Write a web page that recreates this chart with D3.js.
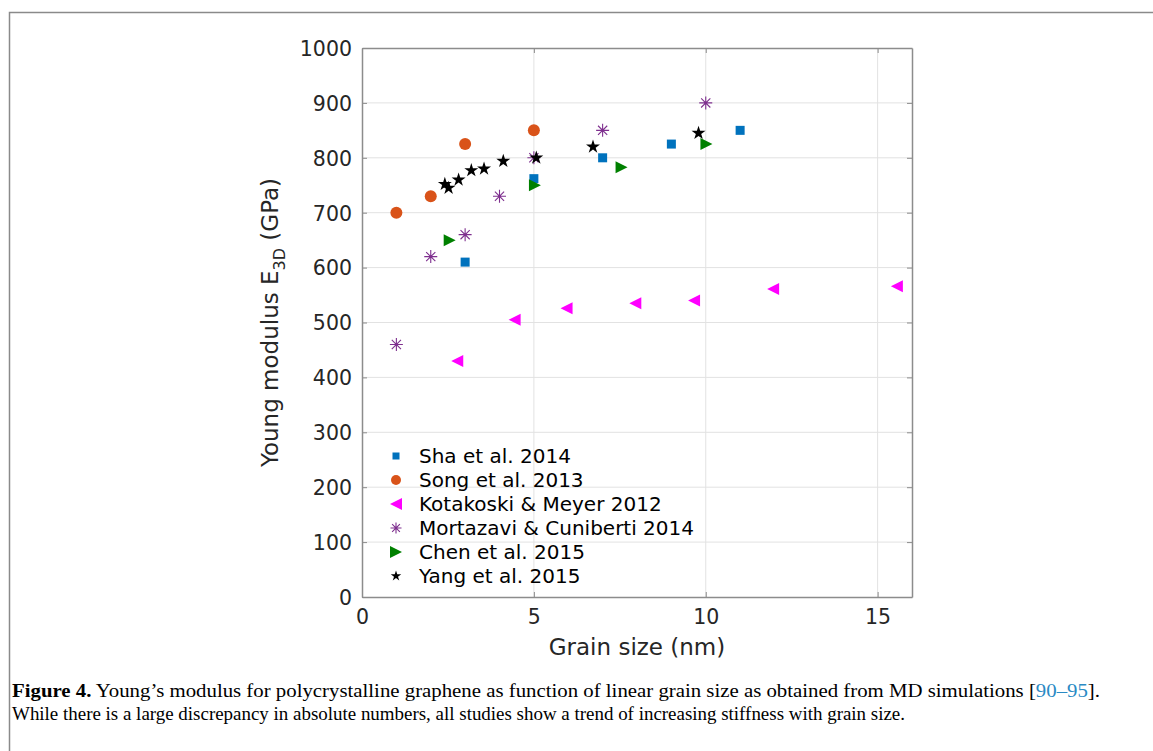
<!DOCTYPE html>
<html>
<head>
<meta charset="utf-8">
<script src="https://cdn.jsdelivr.net/npm/d3@7"></script>
<style>
    body { margin: 0; background: #fff; }
    svg { display: block; }
</style>
</head>
<body>
<div id="chart"></div>
<script>
// --------- data ---------
const shaX = [3, 5, 7, 9, 11],
      shaY = [610, 762, 800, 825, 850];
const songX = [1, 2, 3, 5],
      songY = [700, 730, 825, 850];
const kotaX = [2.77, 4.44, 5.95, 7.95, 9.66, 11.96, 15.56],
      kotaY = [430, 505, 526, 535, 540, 561, 566];
const mortX = [1, 2, 3, 4, 5, 7, 10],
      mortY = [460, 620, 660, 730, 800, 850, 900];
const chenX = [2.55, 5.03, 7.55, 10.02],
      chenY = [650, 750, 783, 825];
const yangX = [2.41, 2.52, 2.81, 3.18, 3.55, 4.11, 5.07, 6.72, 9.79],
      yangY = [752, 745, 760, 777, 780, 794, 800, 820, 845];

const seriesNames = ['Sha et al. 2014', 'Song et al. 2013', 'Kotakoski & Meyer 2012',
                     'Mortazavi & Cuniberti 2014', 'Chen et al. 2015', 'Yang et al. 2015'];
const xTicks = [0, 5, 10, 15];
const yTicks = [0, 100, 200, 300, 400, 500, 600, 700, 800, 900, 1000];

const series = [
    { name: seriesNames[0], xs: shaX, ys: shaY, shape: 'square', color: '#0072BD' },
    { name: seriesNames[1], xs: songX, ys: songY, shape: 'circle', color: '#D95319' },
    { name: seriesNames[2], xs: kotaX, ys: kotaY, shape: 'left', color: '#FF00FF' },
    { name: seriesNames[3], xs: mortX, ys: mortY, shape: 'asterisk', color: '#7E2F8E' },
    { name: seriesNames[4], xs: chenX, ys: chenY, shape: 'right', color: '#008000' },
    { name: seriesNames[5], xs: yangX, ys: yangY, shape: 'star', color: '#000000' }
];

const W = 1153, H = 751;
const plot = { left: 362, right: 912, top: 48, bottom: 597 };

const svg = d3.select('#chart').append('svg')
    .attr('width', W)
    .attr('height', H);

// page frame (open on right and bottom)
svg.append('path')
    .attr('d', `M9.5,${H} V12.5 H${W}`)
    .attr('fill', 'none')
    .attr('stroke', '#8a8a8a')
    .attr('stroke-width', 1.5);

const x = d3.scaleLinear().domain([0, 16]).range([plot.left, plot.right]);
const y = d3.scaleLinear().domain([0, 1000]).range([plot.bottom, plot.top]);

// grid
const grid = svg.append('g');
grid.selectAll('.gx').data(xTicks.filter(d => d > 0))
    .enter().append('line')
    .attr('x1', d => x(d)).attr('x2', d => x(d))
    .attr('y1', plot.top).attr('y2', plot.bottom)
    .attr('stroke', '#e2e2e2').attr('stroke-width', 1);
grid.selectAll('.gy').data(yTicks.filter(d => d > 0 && d < 1000))
    .enter().append('line')
    .attr('x1', plot.left).attr('x2', plot.right)
    .attr('y1', d => y(d)).attr('y2', d => y(d))
    .attr('stroke', '#e2e2e2').attr('stroke-width', 1);

// axes (ticks inward, box on)
const axisColor = '#8c8c8c';
const tickFont = '"DejaVu Sans", sans-serif';

const xAxis = svg.append('g')
    .attr('transform', `translate(0,${plot.bottom})`)
    .call(d3.axisBottom(x).tickValues(xTicks).tickFormat(d3.format('d'))
        .tickSize(-5).tickPadding(10).tickSizeOuter(0));
const yAxis = svg.append('g')
    .attr('transform', `translate(${plot.left},0)`)
    .call(d3.axisLeft(y).tickValues(yTicks).tickFormat(d3.format('d'))
        .tickSize(-5).tickPadding(10).tickSizeOuter(0));
const xTop = svg.append('g')
    .attr('transform', `translate(0,${plot.top})`)
    .call(d3.axisTop(x).tickValues(xTicks).tickSize(-5).tickFormat('').tickSizeOuter(0));
const yRight = svg.append('g')
    .attr('transform', `translate(${plot.right},0)`)
    .call(d3.axisRight(y).tickValues(yTicks).tickSize(-5).tickFormat('').tickSizeOuter(0));

[xAxis, yAxis, xTop, yRight].forEach(g => {
    g.select('.domain').attr('stroke', axisColor).attr('stroke-width', 1.5);
    g.selectAll('.tick line').attr('stroke', axisColor);
    g.selectAll('.tick text')
        .attr('fill', '#262626')
        .style('font-family', tickFont)
        .style('font-size', '20.5px');
});
xAxis.selectAll('.tick text').attr('dy', '0.85em');
yAxis.selectAll('.tick text').attr('dy', '0.36em');

// axis labels
svg.append('text')
    .attr('x', (plot.left + plot.right) / 2)
    .attr('y', 655)
    .attr('text-anchor', 'middle')
    .attr('fill', '#262626')
    .style('font-family', tickFont)
    .style('font-size', '23px')
    .text('Grain size (nm)');

const yl = svg.append('text')
    .attr('transform', `translate(278,${(plot.top + plot.bottom) / 2}) rotate(-90)`)
    .attr('text-anchor', 'middle')
    .attr('fill', '#262626')
    .style('font-family', tickFont)
    .style('font-size', '23px');
yl.append('tspan').text('Young modulus E');
yl.append('tspan').attr('dy', 7).style('font-size', '16px').text('3D');
yl.append('tspan').attr('dy', -7).text(' (GPa)');

// marker drawing
function drawMarker(g, shape, color, s) {
    if (shape === 'square') {
        g.append('rect').attr('x', -s / 2).attr('y', -s / 2)
            .attr('width', s).attr('height', s).attr('fill', color);
    } else if (shape === 'circle') {
        g.append('circle').attr('r', s / 2).attr('fill', color);
    } else if (shape === 'left' || shape === 'right') {
        const d = shape === 'left' ? -1 : 1;
        const h = s / 2;
        g.append('path')
            .attr('d', `M${d * h},0 L${-d * h},${-h} L${-d * h},${h} Z`)
            .attr('fill', color);
    } else if (shape === 'asterisk') {
        const r = s / 2, q = r * Math.SQRT1_2;
        g.append('path')
            .attr('d', `M${-r},0H${r}M0,${-r}V${r}M${-q},${-q}L${q},${q}M${-q},${q}L${q},${-q}`)
            .attr('stroke', color).attr('stroke-width', 1.1).attr('fill', 'none');
    } else if (shape === 'star') {
        g.append('path')
            .attr('d', d3.symbol(d3.symbolStar, s * s * 0.42)())
            .attr('fill', color);
    }
}

const sizes = { square: 9, circle: 12, left: 12, right: 12, asterisk: 13, star: 12 };

series.forEach(s => {
    const pts = s.xs.map((v, i) => [v, s.ys[i]]);
    const gs = svg.append('g');
    pts.forEach(p => {
        const g = gs.append('g').attr('transform', `translate(${x(p[0])},${y(p[1])})`);
        drawMarker(g, s.shape, s.color, sizes[s.shape]);
    });
});

// legend
const legSizes = { square: 7, circle: 10, left: 12, right: 12, asterisk: 11, star: 9 };
const legend = svg.append('g');
series.forEach((s, i) => {
    const yy = 456 + i * 24;
    const g = legend.append('g').attr('transform', `translate(396,${yy})`);
    drawMarker(g, s.shape, s.color, legSizes[s.shape]);
    legend.append('text')
        .attr('x', 419)
        .attr('y', yy)
        .attr('dy', '0.36em')
        .attr('fill', '#000')
        .style('font-family', tickFont)
        .style('font-size', '20px')
        .text(s.name);
});

// caption
const capFont = '"Liberation Serif", "Times New Roman", serif';
const c1 = svg.append('text')
    .attr('x', 12).attr('y', 697)
    .attr('textLength', 1088).attr('lengthAdjust', 'spacingAndGlyphs')
    .style('font-family', capFont).style('font-size', '19px').attr('fill', '#000');
c1.append('tspan').attr('font-weight', 'bold').text('Figure 4.');
c1.append('tspan').text(' Young\u2019s modulus for polycrystalline graphene as function of linear grain size as obtained from MD simulations  [');
c1.append('tspan').attr('fill', '#2a8ac4').text('90\u201395');
c1.append('tspan').text('].');

svg.append('text')
    .attr('x', 12).attr('y', 720)
    .attr('textLength', 893).attr('lengthAdjust', 'spacingAndGlyphs')
    .style('font-family', capFont).style('font-size', '19px').attr('fill', '#000')
    .text('While there is a large discrepancy in absolute numbers, all studies show a trend of increasing stiffness with grain size.');
</script>
</body>
</html>
